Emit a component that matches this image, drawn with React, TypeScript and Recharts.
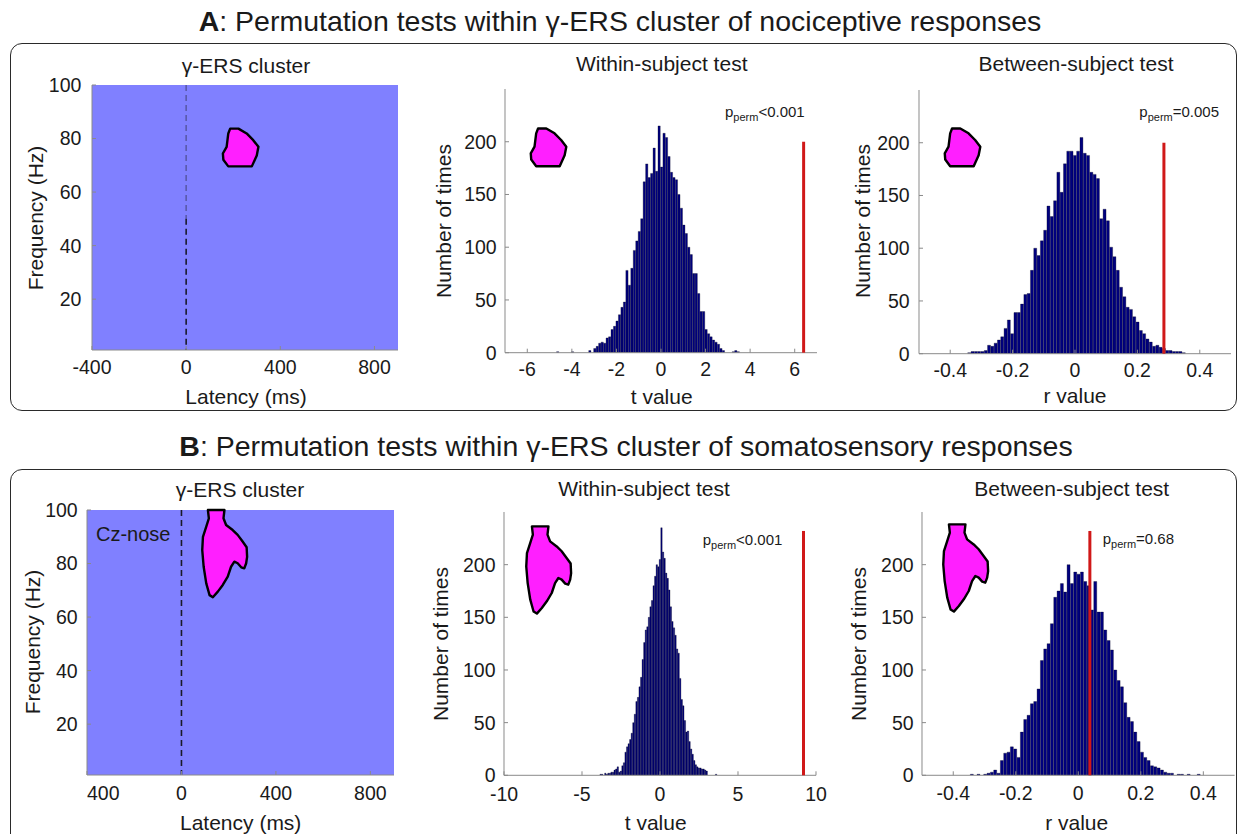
import React from "react";
import {
  ComposedChart,
  ScatterChart,
  Scatter,
  Bar,
  XAxis,
  YAxis,
  ReferenceLine,
  CartesianGrid,
} from "recharts";

const FONT = '"Liberation Sans", Arial, Helvetica, sans-serif';
const INK = "#1a1a1a";
const AXIS = "#8a8a8a";
const NAVY = "#00007f";
const RED = "#d01818";
const MAGENTA = "#ff1fff";
const HEAT = "#8080ff";

// gamma-ERS cluster outlines (latency ms / frequency Hz)
const clusterALatency = [187, 222, 257, 285, 307, 300, 279, 179, 158, 156, 172, 179];
const clusterAFreq = [83.7, 83.7, 81.9, 79.4, 76.9, 73.7, 69.6, 69.6, 72.1, 74.4, 76.9, 81.9];
const clusterBLatency = [112, 182, 178, 189, 217, 238, 259, 276, 278, 274, 266, 253, 238, 224, 210, 196, 175, 154, 133, 119, 105, 94, 88, 91, 105, 116];
const clusterBFreq = [100, 100, 96.9, 94.4, 92.5, 90.7, 88.2, 86.1, 82.5, 80.1, 78.2, 78.6, 80.1, 80.7, 78.8, 75.1, 72.0, 69.5, 67.4, 68.2, 72.6, 78.8, 85.0, 90.0, 93.8, 96.9];

const latencyTicks = [-400, 0, 400, 800];
const latencyLabelsA = ["-400", "0", "400", "800"];
const latencyLabelsB = ["400", "0", "400", "800"];
const freqTicks = [20, 40, 60, 80, 100];
const countTicks = [0, 50, 100, 150, 200];
const tTicksA = [-6, -4, -2, 0, 2, 4, 6];
const tTicksB = [-10, -5, 0, 5, 10];
const rTicks = [-0.4, -0.2, 0, 0.2, 0.4];

// permutation distributions: first bin centre, bin width, counts
const withinABinStart = -4.63;
const withinABinWidth = 0.111;
const withinACounts = [1, 0, 0, 0, 0, 0, 1, 0, 0, 0, 0, 0, 0, 2, 0, 4, 6, 9, 10, 9, 14, 15, 22, 25, 30, 36, 43, 48, 78, 64, 80, 97, 106, 115, 127, 162, 179, 166, 170, 194, 172, 215, 176, 208, 204, 186, 171, 166, 164, 150, 137, 121, 113, 100, 93, 75, 75, 56, 39, 39, 22, 18, 15, 12, 10, 8, 4, 2, 0, 0, 0, 1, 2, 1];

const betweenABinStart = -0.3385;
const betweenABinWidth = 0.01058;
const betweenACounts = [1, 2, 2, 2, 2, 3, 8, 7, 10, 13, 16, 24, 32, 19, 39, 39, 47, 56, 57, 79, 100, 93, 107, 117, 140, 130, 145, 172, 153, 180, 192, 192, 188, 192, 205, 190, 188, 172, 170, 166, 128, 137, 126, 101, 92, 79, 63, 54, 44, 42, 35, 30, 22, 19, 14, 11, 7, 8, 6, 5, 3, 3, 2, 2, 2, 1];

const withinBBinStart = -3.8;
const withinBBinWidth = 0.1;
const withinBCounts = [1, 1, 0, 2, 1, 2, 2, 3, 3, 5, 6, 8, 3, 4, 9, 12, 22, 27, 30, 34, 40, 50, 58, 70, 74, 84, 93, 110, 126, 138, 141, 150, 160, 166, 180, 189, 200, 198, 205, 235, 212, 206, 192, 187, 176, 160, 146, 140, 133, 120, 116, 92, 72, 66, 52, 41, 42, 32, 25, 20, 14, 10, 8, 7, 7, 6, 6, 5, 4, 0, 0, 0, 0, 0, 1];

const betweenBBinStart = -0.34;
const betweenBBinWidth = 0.01067;
const betweenBCounts = [1, 0, 1, 0, 1, 2, 3, 5, 2, 14, 21, 22, 27, 25, 17, 41, 53, 57, 68, 70, 82, 109, 120, 125, 144, 169, 175, 182, 174, 200, 182, 193, 191, 193, 184, 180, 157, 184, 155, 155, 138, 128, 119, 100, 90, 84, 69, 55, 51, 41, 32, 22, 17, 14, 9, 8, 7, 5, 3, 2, 2, 0, 1, 1, 0, 1, 0, 0, 1];

// observed statistics (red markers)
const withinAObserved = 6.4;
const betweenAObserved = 0.285;
const withinBObserved = 9.2;
const betweenBObserved = 0.037;
const markerTopA = 200;
const markerTopB = 232;

const toBins = (start: number, width: number, counts: number[]) =>
  counts
    .map((n, i) => ({ x: +(start + i * width).toFixed(4), n }))
    .filter((b) => b.n > 0);

const toOutline = (lat: number[], freq: number[]) =>
  lat.map((l, i) => ({ lat: l, freq: freq[i] }));

const outlineA = toOutline(clusterALatency, clusterAFreq);
const outlineB = toOutline(clusterBLatency, clusterBFreq);

type Rect = { x: number; y: number; w: number; h: number };

const blobLine = (props: any) => (
  <polygon
    points={(props.points || []).map((p: any) => `${p.x},${p.y}`).join(" ")}
    fill={MAGENTA}
    stroke="#000"
    strokeWidth={2.4}
    strokeLinejoin="round"
  />
);
const noDot = () => <g />;

function Txt({ x, y, size, rotate, children }: any) {
  return (
    <div
      style={{
        position: "absolute",
        left: x,
        top: y,
        transform: `translate(-50%, -50%)${rotate ? " rotate(-90deg)" : ""}`,
        fontSize: size,
        fontFamily: FONT,
        color: INK,
        whiteSpace: "nowrap",
        lineHeight: 1,
      }}
    >
      {children}
    </div>
  );
}

function PLabel({ x, y, rest }: any) {
  return (
    <div style={{ position: "absolute", left: x, top: y, fontSize: 15, lineHeight: 1, fontFamily: FONT, color: INK, whiteSpace: "nowrap" }}>
      p<span style={{ fontSize: 11, verticalAlign: "-4px" }}>perm</span>
      {rest}
    </div>
  );
}

const L = 80;
const T = 12;
const R = 12;
const B = 50;
const tickFont = { fontSize: 19.5, fill: INK, fontFamily: FONT };

function ClusterPanel({ plot, outline, labels, firstAnchor, dashSplit, xMargin, yMargin }: any) {
  const LatTick = (props: any) => {
    const i = latencyTicks.indexOf(props.payload.value);
    return (
      <text x={props.x} y={props.y} dy="0.71em" textAnchor={i === 0 ? firstAnchor : "middle"} fontSize={19.5} fill={INK} fontFamily={FONT}>
        {labels[i]}
      </text>
    );
  };
  return (
    <div style={{ position: "absolute", left: plot.x - L, top: plot.y - T }}>
      <ScatterChart width={plot.w + L + R} height={plot.h + T + B} margin={{ top: T, right: R, left: 0, bottom: 0 }}>
        <CartesianGrid horizontal={false} vertical={false} fill={HEAT} fillOpacity={1} />
        <XAxis type="number" dataKey="lat" domain={[-400, 900]} ticks={latencyTicks} interval={0} height={B}
          axisLine={{ stroke: AXIS }} tickLine={{ stroke: AXIS }} tickSize={-4} tickMargin={xMargin} tick={LatTick} />
        <XAxis xAxisId="top" orientation="top" type="number" domain={[-400, 900]} ticks={latencyTicks} interval={0} height={0}
          axisLine={{ stroke: AXIS }} tickLine={{ stroke: AXIS }} tickSize={-4} tick={false} />
        <YAxis type="number" dataKey="freq" domain={[1, 100]} ticks={freqTicks} interval={0} width={L}
          axisLine={{ stroke: AXIS }} tickLine={{ stroke: AXIS }} tickSize={-4} tickMargin={yMargin} tick={tickFont} />
        <YAxis yAxisId="right" orientation="right" type="number" domain={[1, 100]} ticks={freqTicks} interval={0} width={0}
          axisLine={{ stroke: AXIS }} tickLine={{ stroke: AXIS }} tickSize={-4} tick={false} />
        {dashSplit < 100 && (
          <ReferenceLine segment={[{ x: 0, y: 100 }, { x: 0, y: dashSplit }]} stroke="#33335a" strokeOpacity={0.55} strokeWidth={1.5} strokeDasharray="6 4" />
        )}
        <ReferenceLine segment={[{ x: 0, y: dashSplit }, { x: 0, y: 1 }]} stroke="#1a1a2a" strokeWidth={1.6} strokeDasharray="6 4" />
        <Scatter data={outline} line={blobLine} shape={noDot} isAnimationActive={false} />
      </ScatterChart>
    </div>
  );
}

function HistPanel({ plot, bins, binWidth, domain, ticks, observed, markerTop, xMargin, yMargin }: any) {
  const barSize = (binWidth * plot.w) / (domain[1] - domain[0]);
  return (
    <div style={{ position: "absolute", left: plot.x - L, top: plot.y - T }}>
      <ComposedChart width={plot.w + L + R} height={plot.h + T + B} data={bins} margin={{ top: T, right: R, left: 0, bottom: 0 }} barCategoryGap={0} barGap={0}>
        <XAxis type="number" dataKey="x" domain={domain} ticks={ticks} interval={0} height={B} allowDataOverflow
          axisLine={{ stroke: AXIS }} tickLine={{ stroke: AXIS }} tickSize={-4} tickMargin={xMargin} tick={tickFont} />
        <YAxis type="number" domain={[0, 250]} ticks={countTicks} interval={0} width={L} allowDataOverflow
          axisLine={{ stroke: AXIS }} tickLine={{ stroke: AXIS }} tickSize={-4} tickMargin={yMargin} tick={tickFont} />
        <Bar dataKey="n" fill={NAVY} stroke="#000010" strokeWidth={0.3} barSize={barSize} isAnimationActive={false} />
        <ReferenceLine segment={[{ x: observed, y: 0 }, { x: observed, y: markerTop }]} stroke={RED} strokeWidth={3} zIndex={1000} />
      </ComposedChart>
    </div>
  );
}

function Inset({ plot, outline, xDomain, yDomain, dx, dy }: any) {
  const pxX = plot.w / 1300;
  const pxY = plot.h / 99;
  const w = (xDomain[1] - xDomain[0]) * pxX;
  const h = (yDomain[1] - yDomain[0]) * pxY;
  const left = plot.x + (xDomain[0] + 400) * pxX + dx;
  const top = plot.y + (100 - yDomain[1]) * pxY + dy;
  return (
    <div style={{ position: "absolute", left, top }}>
      <ScatterChart width={w} height={h} margin={{ top: 0, right: 0, left: 0, bottom: 0 }}>
        <XAxis hide type="number" dataKey="lat" domain={xDomain} allowDataOverflow />
        <YAxis hide type="number" dataKey="freq" domain={yDomain} allowDataOverflow />
        <Scatter data={outline} line={blobLine} shape={noDot} isAnimationActive={false} />
      </ScatterChart>
    </div>
  );
}

const plotAC: Rect = { x: 92.3, y: 85, w: 306, h: 265 };
const plotAW: Rect = { x: 505, y: 89, w: 312, h: 263.7 };
const plotAB: Rect = { x: 919.3, y: 89.6, w: 312, h: 263.7 };
const plotBC: Rect = { x: 87.3, y: 510, w: 307, h: 265 };
const plotBW: Rect = { x: 504, y: 511.7, w: 312, h: 263.3 };
const plotBB: Rect = { x: 921.7, y: 511.7, w: 312.6, h: 263.3 };

const frame = (top: number, height: number): React.CSSProperties => ({
  position: "absolute",
  left: 10,
  top,
  width: 1227,
  height,
  boxSizing: "border-box",
  border: "1.6px solid #2a2a2a",
  borderRadius: 12,
});

export default function App() {
  return (
    <div style={{ position: "absolute", left: 0, top: 0, width: 1239, height: 834, overflow: "hidden", background: "#fff", fontFamily: FONT, color: INK }}>
      <Txt x={620} y={21} size={28.5}>
        <b>A</b>: Permutation tests within γ-ERS cluster of nociceptive responses
      </Txt>
      <div style={frame(43, 368)} />
      <Txt x={626} y={446} size={28.5}>
        <b>B</b>: Permutation tests within γ-ERS cluster of somatosensory responses
      </Txt>
      <div style={frame(469, 420)} />

      {/* Panel A */}
      <ClusterPanel plot={plotAC} outline={outlineA} labels={latencyLabelsA} firstAnchor="middle" dashSplit={50} xMargin={14} yMargin={14.6} />
      <HistPanel plot={plotAW} bins={toBins(withinABinStart, withinABinWidth, withinACounts)} binWidth={withinABinWidth}
        domain={[-7, 7]} ticks={tTicksA} observed={withinAObserved} markerTop={markerTopA} xMargin={13} yMargin={12.3} />
      <HistPanel plot={plotAB} bins={toBins(betweenABinStart, betweenABinWidth, betweenACounts)} binWidth={betweenABinWidth}
        domain={[-0.5, 0.5]} ticks={rTicks} observed={betweenAObserved} markerTop={markerTopA} xMargin={13} yMargin={13.3} />
      <Inset plot={plotAC} outline={outlineA} xDomain={[140, 320]} yDomain={[66, 88]} dx={308} dy={0} />
      <Inset plot={plotAC} outline={outlineA} xDomain={[140, 320]} yDomain={[66, 88]} dx={722} dy={0} />

      <Txt x={246} y={65} size={21}>γ-ERS cluster</Txt>
      <Txt x={246} y={396} size={21}>Latency (ms)</Txt>
      <Txt x={35} y={218} size={21} rotate>Frequency (Hz)</Txt>
      <Txt x={661.7} y={63} size={21}>Within-subject test</Txt>
      <Txt x={661.7} y={396} size={21}>t value</Txt>
      <Txt x={443.3} y={221} size={21} rotate>Number of times</Txt>
      <Txt x={1076} y={63} size={21}>Between-subject test</Txt>
      <Txt x={1075} y={395} size={21}>r value</Txt>
      <Txt x={861.7} y={221} size={21} rotate>Number of times</Txt>
      <PLabel x={725} y={104} rest="<0.001" />
      <PLabel x={1139.3} y={104} rest="=0.005" />

      {/* Panel B */}
      <ClusterPanel plot={plotBC} outline={outlineB} labels={latencyLabelsB} firstAnchor="start" dashSplit={100} xMargin={15} yMargin={13.3} />
      <HistPanel plot={plotBW} bins={toBins(withinBBinStart, withinBBinWidth, withinBCounts)} binWidth={withinBBinWidth}
        domain={[-10, 10]} ticks={tTicksB} observed={withinBObserved} markerTop={markerTopB} xMargin={16} yMargin={12.5} />
      <HistPanel plot={plotBB} bins={toBins(betweenBBinStart, betweenBBinWidth, betweenBCounts)} binWidth={betweenBBinWidth}
        domain={[-0.5, 0.5]} ticks={rTicks} observed={betweenBObserved} markerTop={markerTopB} xMargin={15} yMargin={12.4} />
      <Inset plot={plotBC} outline={outlineB} xDomain={[70, 300]} yDomain={[62, 102]} dx={323.5} dy={16} />
      <Inset plot={plotBC} outline={outlineB} xDomain={[70, 300]} yDomain={[62, 102]} dx={741} dy={14.5} />

      <div style={{ position: "absolute", left: 96, top: 524, fontSize: 20, lineHeight: 1, fontFamily: FONT, color: INK }}>Cz-nose</div>
      <Txt x={240} y={489} size={21}>γ-ERS cluster</Txt>
      <Txt x={240.7} y={821.7} size={21}>Latency (ms)</Txt>
      <Txt x={31.7} y={642.3} size={21} rotate>Frequency (Hz)</Txt>
      <Txt x={644} y={488} size={21}>Within-subject test</Txt>
      <Txt x={655.7} y={821.7} size={21}>t value</Txt>
      <Txt x={440} y={644} size={21} rotate>Number of times</Txt>
      <Txt x={1071.7} y={488} size={21}>Between-subject test</Txt>
      <Txt x={1076.7} y={821.7} size={21}>r value</Txt>
      <Txt x={858.3} y={644} size={21} rotate>Number of times</Txt>
      <PLabel x={702.7} y={532} rest="<0.001" />
      <PLabel x={1102.7} y={530.7} rest="=0.68" />
    </div>
  );
}
